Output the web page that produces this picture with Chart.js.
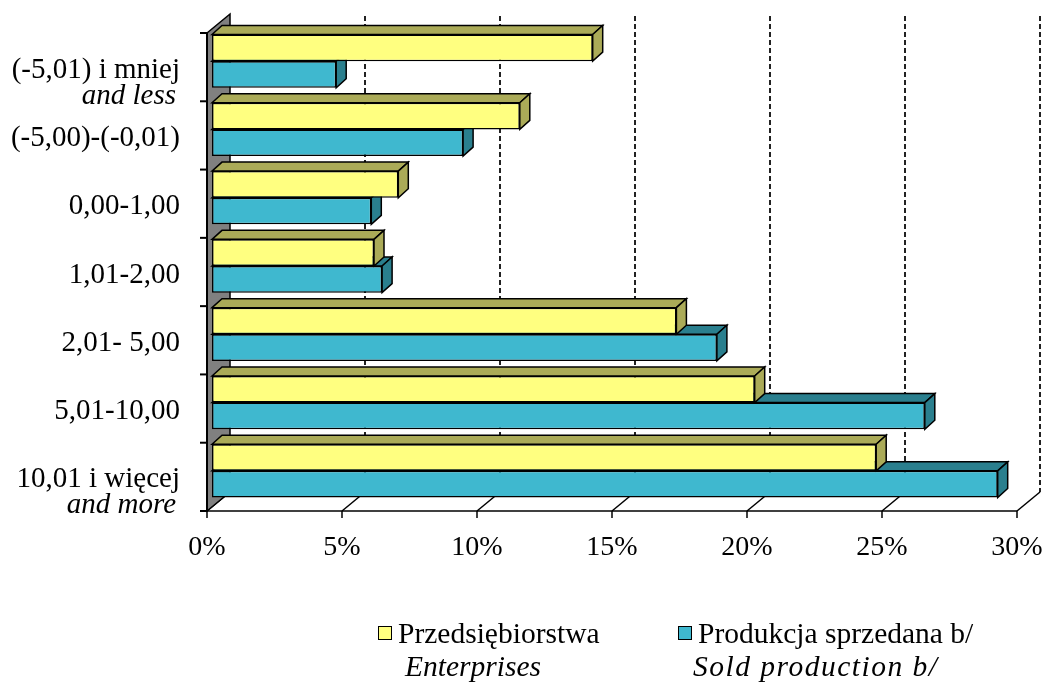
<!DOCTYPE html>
<html>
<head>
<meta charset="utf-8">
<script src="https://cdn.jsdelivr.net/npm/chart.js@4/dist/chart.umd.min.js"></script>
<style>
html,body{margin:0;padding:0;background:#fff;}
#wrap{position:relative;width:1047px;height:682px;overflow:hidden;font-family:"Liberation Serif","Times New Roman",serif;}
#chart{position:absolute;left:0;top:0;}
.lg{position:absolute;font-size:29.5px;line-height:30px;white-space:nowrap;color:#000;}
.lg.en{font-style:italic;}
.box{position:absolute;width:12px;height:12px;border:1px solid #000;}
</style>
</head>
<body>
<div id="wrap">
  <canvas id="chart" width="1047" height="682"></canvas>
  <div id="legend"></div>
</div>
<script>
/* dane */
const catPl = ["(-5,01) i mniej","(-5,00)-(-0,01)","0,00-1,00","1,01-2,00","2,01- 5,00","5,01-10,00","10,01 i więcej"];
const catEn = ["and less","","","","","","and more"];
const seriesPl = ["Przedsiębiorstwa","Produkcja sprzedana b/"];
const seriesEn = ["Enterprises","Sold production b/"];
const enterprises = [14.1, 11.4, 6.9, 6.0, 17.2, 20.1, 24.6];
const soldProduction = [4.6, 9.3, 5.9, 6.3, 18.7, 26.4, 29.1];
const xTicks = [0, 5, 10, 15, 20, 25, 30];

/* wyglad */
const frontCol = ["#FFFF80", "#3FB8CF"];
const sideCol = ["#ABAB58", "#2A7F8E"];
const FONT = '"Liberation Serif", "Times New Roman", serif';
const OFF = {x:-5, y:6};     // plaszczyzna slupkow -> przednia krawedz
const DEPTH = {x:23, y:-19}; // glebokosc wykresu
const BAR = {x:10, y:-9};    // glebokosc slupka

function poly(ctx, pts, fill){
  ctx.beginPath();
  ctx.moveTo(pts[0][0], pts[0][1]);
  for(let i=1;i<pts.length;i++) ctx.lineTo(pts[i][0], pts[i][1]);
  ctx.closePath();
  if(fill){ctx.fillStyle=fill;ctx.fill();}
  ctx.stroke();
}

const depthPlugin = {
  id:"depth3d",
  beforeDatasetsDraw(chart){
    const ctx=chart.ctx, a=chart.chartArea, xs=chart.scales.x;
    const fx0=xs.getPixelForValue(xTicks[0])+OFF.x, fx1=xs.getPixelForValue(xTicks[xTicks.length-1])+OFF.x;
    const fy0=a.top+OFF.y, fy1=a.bottom+OFF.y;
    ctx.save();
    // dashed back gridlines
    ctx.strokeStyle="#222";ctx.lineWidth=2;ctx.setLineDash([5,3]);
    xTicks.slice(1).forEach(t=>{
      const px=xs.getPixelForValue(t)+OFF.x+DEPTH.x;
      ctx.beginPath();ctx.moveTo(px,fy0+DEPTH.y+2);ctx.lineTo(px,fy1+DEPTH.y);ctx.stroke();
    });
    ctx.setLineDash([]);
    // floor
    ctx.strokeStyle="#000";ctx.lineWidth=1.5;
    ctx.beginPath();ctx.moveTo(fx0,fy1);ctx.lineTo(fx1,fy1);ctx.stroke();
    xTicks.forEach(t=>{
      const px=xs.getPixelForValue(t)+OFF.x;
      ctx.beginPath();ctx.moveTo(px,fy1);ctx.lineTo(px+DEPTH.x,fy1+DEPTH.y);ctx.stroke();
      ctx.beginPath();ctx.moveTo(px,fy1);ctx.lineTo(px,fy1+7);ctx.stroke();
    });
    // left wall
    ctx.lineWidth=1.5;
    poly(ctx,[[fx0,fy0],[fx0+DEPTH.x,fy0+DEPTH.y],[fx0+DEPTH.x,fy1+DEPTH.y],[fx0,fy1]],"#808080");
    ctx.lineWidth=2;
    ctx.beginPath();ctx.moveTo(fx0,fy0);ctx.lineTo(fx0,fy1+1);ctx.stroke();
    const band=(a.bottom-a.top)/catPl.length;
    for(let i=0;i<=catPl.length;i++){
      const yy=a.top+i*band+OFF.y;
      ctx.beginPath();ctx.moveTo(fx0-7,yy);ctx.lineTo(fx0,yy);ctx.stroke();
    }
    // bar depth faces, lower series first
    ctx.lineWidth=1.5;
    for(let d=chart.data.datasets.length-1;d>=0;d--){
      chart.getDatasetMeta(d).data.forEach(el=>{
        const p=el.getProps(["x","y","base","height"],true);
        const top=p.y-p.height/2, bot=p.y+p.height/2;
        poly(ctx,[[p.base,top],[p.base+BAR.x,top+BAR.y],[p.x+BAR.x,top+BAR.y],[p.x,top]],sideCol[d]);
        poly(ctx,[[p.x,top],[p.x+BAR.x,top+BAR.y],[p.x+BAR.x,bot+BAR.y],[p.x,bot]],sideCol[d]);
      });
    }
    ctx.restore();
  },
  afterDraw(chart){
    const ctx=chart.ctx, ys=chart.scales.y;
    ctx.save();
    ctx.fillStyle="#000";ctx.textAlign="right";ctx.textBaseline="middle";
    catPl.forEach((lab,i)=>{
      const cy=ys.getPixelForValue(i)+OFF.y+3;
      ctx.font="29px "+FONT;
      ctx.fillText(lab,180,cy);
      if(catEn[i]){
        ctx.font="italic 29px "+FONT;
        ctx.fillText(catEn[i],176,cy+26);
      }
    });
    ctx.restore();
  }
};

new Chart(document.getElementById("chart"),{
  type:"bar",
  data:{
    labels:catPl,
    datasets:[
      {label:seriesPl[0],data:enterprises,backgroundColor:frontCol[0],borderColor:"#000",borderWidth:1.5,borderSkipped:false},
      {label:seriesPl[1],data:soldProduction,backgroundColor:frontCol[1],borderColor:"#000",borderWidth:1.5,borderSkipped:false}
    ]
  },
  options:{
    indexAxis:"y",
    responsive:false,
    animation:false,
    layout:{padding:{top:27,right:25,left:0,bottom:0}},
    categoryPercentage:0.78,
    barPercentage:1.0,
    plugins:{legend:{display:false},tooltip:{enabled:false}},
    scales:{
      x:{
        min:xTicks[0],max:xTicks[xTicks.length-1],
        grid:{display:false,drawTicks:false},border:{display:false},
        ticks:{stepSize:5,callback:v=>v+"%",color:"#000",font:{family:FONT,size:28},labelOffset:OFF.x,padding:26,maxRotation:0},
        afterFit(s){s.height=177;s.paddingLeft=0;s.paddingRight=0;}
      },
      y:{
        grid:{display:false,drawTicks:false},border:{display:false},
        ticks:{display:false},
        afterFit(s){s.width=212;s.paddingTop=0;s.paddingBottom=0;}
      }
    }
  },
  plugins:[depthPlugin]
});

/* legenda */
const legendPos=[{box:378,t1:398,t2:405,sp:0},{box:678,t1:698,t2:693,sp:1.5}];
const lg=document.getElementById("legend");
seriesPl.forEach((name,i)=>{
  const p=legendPos[i];
  lg.insertAdjacentHTML("beforeend",
    `<div class="box" style="left:${p.box}px;top:626px;background:${frontCol[i]}"></div>`+
    `<div class="lg" style="left:${p.t1}px;top:618px">${name}</div>`+
    `<div class="lg en" style="left:${p.t2}px;top:651px;letter-spacing:${p.sp}px">${seriesEn[i]}</div>`);
});
</script>
</body>
</html>
